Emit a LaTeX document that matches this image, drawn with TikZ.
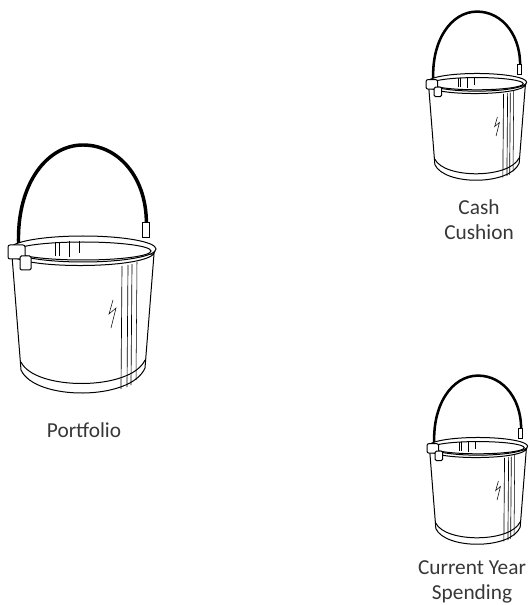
\documentclass[tikz,border=0pt]{standalone}
\usepackage{fontspec}
\setmainfont{Carlito}

\definecolor{lbl}{RGB}{55,55,55}

\tikzset{every picture/.style={line width=0.75pt}}
\tikzset{
	bucket handle/.style={line width=2.6pt, line cap=round},
	bucket label/.style={text=lbl, align=center, inner sep=0pt, font=\fontsize{16}{18.75}\selectfont},
	% pail drawn round the centre of its rim, y pointing down
	bucket/.pic={
		%handle
		\draw [bucket handle] (-64,2) .. controls (-69,-62) and (-38,-105) .. (0,-105) .. controls (38,-105) and (67,-68) .. (63,-18) ;
		%body
		\draw [fill=white] (-71,6) -- (-62,120) .. controls (-48,151) and (48,151) .. (62,118) -- (71,4) -- cycle ;
		%bottom hoop
		\draw    (-62,112) .. controls (-48,141) and (48,141) .. (62,110) ;
		%shine on the right
		\draw [line width=0.5pt]  (39,16) -- (38,139) ;
		\draw [line width=0.5pt]  (45,15) -- (44,137) ;
		\draw [line width=0.5pt]  (49,14) -- (48,135) ;
		\draw [line width=0.4pt]  (54,12) -- (53,130) ;
		\draw [line width=0.4pt]  (30,50) -- (26,64) -- (33,58) -- (28,78) ;
		%rim
		\draw [fill=white] (0,-1) ellipse [x radius=73, y radius=13] ;
		\draw    (0,1) ellipse [x radius=68, y radius=9] ;
		\draw    (-72,3) .. controls (-72,20) and (72,20) .. (72,1) ;
		%inside of the back wall
		\draw [line width=0.5pt]  (-28,-8) -- (-28,6) ;
		\draw [line width=0.5pt]  (-24,-8) -- (-24,6) ;
		\draw [line width=0.5pt]  (-14,-9) -- (-14,7) ;
		\draw [line width=0.5pt]  (-4,-9) -- (-4,3) ;
		%ears
		\draw [fill=white, rounded corners=1.5pt] (-75,-5) rectangle (-58,9) ;
		\draw [fill=white, rounded corners=1pt] (-63,6) rectangle (-52,20) ;
		\draw [fill=white] (59,-27) rectangle (66,-12) ;
	},
	every pic/.style={yscale=-1}
}

\begin{document}
\begin{tikzpicture}[x=0.75pt,y=0.75pt,yscale=-1,xscale=1]
	\useasboundingbox (0,0) rectangle (530,605);

	%Portfolio
	\pic at (83,250) {bucket};
	%Cash cushion
	\pic [scale=0.68, bucket handle/.style={line width=1.9pt, line cap=round}] at (477,83) {bucket};
	%Current year spending
	\pic [scale=0.68, bucket handle/.style={line width=1.9pt, line cap=round}] at (478,447) {bucket};

	% Text Node
	\node [bucket label] (portfolio) at (84,430) {Portfolio};
	% Text Node
	\node [bucket label] (cushion) at (479,220) {Cash\\Cushion};
	% Text Node
	\node [bucket label] (spending) at (472,582) {Current Year\\Spending};

\end{tikzpicture}
\end{document}
